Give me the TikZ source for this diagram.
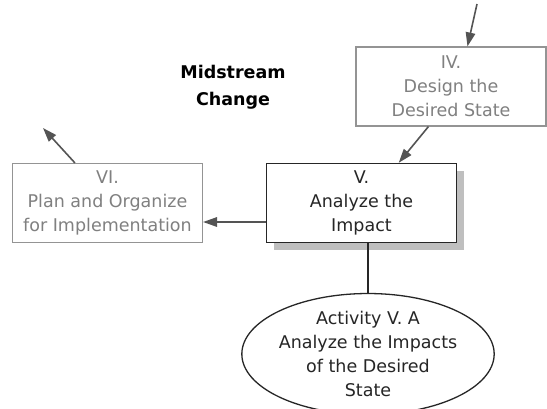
\documentclass[tikz,border=0pt]{standalone}
\usepackage{fontspec}
\setmainfont{DejaVu Sans}
\usetikzlibrary{arrows.meta,shapes.geometric,shadows,calc}

\definecolor{paleline}{gray}{0.58}
\definecolor{paletext}{gray}{0.50}
\definecolor{darkline}{gray}{0.15}
\definecolor{arrowgray}{gray}{0.33}
\definecolor{shadowgray}{gray}{0.75}

\tikzset{
  phasebox/.style={draw=paleline, line width=1.1bp, fill=white,
    minimum width=190bp, minimum height=79bp, inner sep=0pt,
    align=center, text=paletext,
    font=\fontsize{17.5bp}{24bp}\selectfont},
  currentbox/.style={phasebox, draw=darkline, line width=1.5bp, text=darkline,
    drop shadow={shadow xshift=7bp, shadow yshift=-7bp, fill=shadowgray, opacity=1}},
  activity/.style={ellipse, draw=darkline, line width=1.3bp, fill=white,
    minimum width=222bp, minimum height=116bp, inner sep=0pt,
    align=center, text=darkline,
    font=\fontsize{17.5bp}{24bp}\selectfont},
  flow/.style={draw=arrowgray, line width=1.6bp,
    -{Triangle[length=14bp, width=9.5bp]}},
  link/.style={draw=darkline, line width=1.6bp},
  heading/.style={align=center, text=black,
    font=\fontsize{17.5bp}{27bp}\selectfont\bfseries}
}

\begin{document}
\begin{tikzpicture}[x=1bp, y=-1bp]
  \useasboundingbox (0,0) rectangle (547,408);

  % phases
  \node[phasebox]   (iv) at (451,86.5)   {IV.\\Design the\\Desired State};
  \node[currentbox] (v)  at (361.5,203) {V.\\Analyze the\\Impact};
  \node[phasebox]   (vi) at (107.5,203) {VI.\\Plan and Organize\\for Implementation};

  % activity of phase V
  \node[activity] (act) at (368,354)
    {Activity V. A\\Analyze the Impacts\\of the Desired\\State};

  \node[heading] (title) at (233,87) {Midstream\\Change};

  % loose ends of the flow
  \coordinate (incoming) at (477,4);
  \coordinate (outgoing) at (43,128);

  % connectors
  \draw[flow] (incoming) -- ($(iv.north west)+(112,0)$);
  \draw[flow] ($(iv.south west)+(73,0)$) -- ($(v.north west)+(133,0)$);
  \draw[flow] ($(v.west)+(0,19)$) -- ($(vi.east)+(0,19)$);
  \draw[flow] ($(vi.north west)+(63,0)$) -- (outgoing);
  \draw[link] (act.north |- v.south) -- (act.north);
\end{tikzpicture}
\end{document}
